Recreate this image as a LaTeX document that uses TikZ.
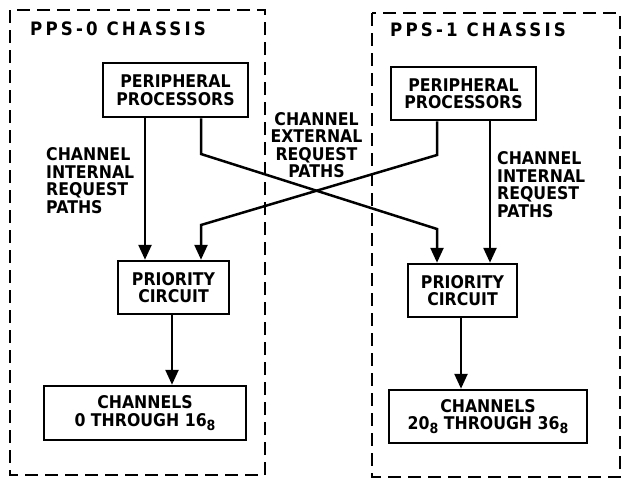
\documentclass[tikz,border=0pt]{standalone}
\usepackage{fontspec}
\setmainfont{DejaVu Sans}
\newfontfamily\boxfont{DejaVu Sans}[FakeStretch=0.9]
\newfontfamily\titlefont{DejaVu Sans}[FakeStretch=0.9,LetterSpace=17]
\usetikzlibrary{arrows.meta}
\newcommand{\octal}[1]{\raisebox{-4pt}{\fontsize{14}{14}\selectfont #1}}
\begin{document}
\begin{tikzpicture}[x=1pt,y=-1pt,
  chassis/.style={draw, line width=2pt, dash pattern=on 13pt off 7pt},
  block/.style={draw, line width=2.5pt, inner sep=0pt, align=center,
    font=\boxfont\fontsize{17.5}{17.5}\selectfont\bfseries},
  lbl/.style={inner sep=0pt, font=\boxfont\fontsize{17.5}{17.5}\selectfont\bfseries},
  ttl/.style={inner sep=0pt, font=\titlefont\fontsize{18.5}{20}\selectfont\bfseries},
  conn/.style={line width=2.5pt},
  arr/.style={conn, -{Triangle[length=15pt,width=13pt]}}]
\useasboundingbox (0,0) rectangle (622,479);
\fill[white] (0,0) rectangle (622,479);
% chassis outlines
\draw[chassis] (10,10) rectangle (265,475);
\draw[chassis] (372,13) rectangle (620,477);
\node[ttl, anchor=base west] (t0) at (30,35) {PPS-0 CHASSIS};
\node[ttl, anchor=base west] (t1) at (390,36) {PPS-1 CHASSIS};
% blocks
\node[block, minimum width=145pt, minimum height=54pt] (ppL) at (175.5,90) {PERIPHERAL\\PROCESSORS};
\node[block, minimum width=145pt, minimum height=53pt] (ppR) at (463.5,93.5) {PERIPHERAL\\PROCESSORS};
\node[block, minimum width=111pt, minimum height=53pt] (prL) at (173.5,287.5) {PRIORITY\\CIRCUIT};
\node[block, minimum width=109pt, minimum height=53pt] (prR) at (462.5,290.5) {PRIORITY\\CIRCUIT};
\node[block, minimum width=202pt, minimum height=54pt] (chL) at (145,413) {CHANNELS\\0 THROUGH 16\octal{8}};
\node[block, minimum width=198pt, minimum height=53pt] (chR) at (488,416.5) {CHANNELS\\20\octal{8} THROUGH 36\octal{8}};
% labels
\node[lbl, align=left, anchor=west] (lL) at (46,180.5) {CHANNEL\\INTERNAL\\REQUEST\\PATHS};
\node[lbl, align=center] (lC) at (316.5,145) {CHANNEL\\EXTERNAL\\REQUEST\\PATHS};
\node[lbl, align=left, anchor=west] (lR) at (497,184.5) {CHANNEL\\INTERNAL\\REQUEST\\PATHS};
% connector reference coordinates
\coordinate (xa) at (145,0);
\coordinate (xb) at (201,0);
\coordinate (xc) at (437,0);
\coordinate (xd) at (490,0);
\coordinate (xe) at (172,0);
\coordinate (xf) at (461,0);
\coordinate (b1) at (201,154);
\coordinate (b2) at (437,229);
\coordinate (b3) at (437,155);
\coordinate (b4) at (201,225);
% connectors
\draw[arr] (ppL.south -| xa) -- (prL.north -| xa);
\draw[arr] (ppL.south -| xb) -- (b1) -- (b2) -- (prR.north -| xc);
\draw[arr] (ppR.south -| xc) -- (b3) -- (b4) -- (prL.north -| xb);
\draw[arr] (ppR.south -| xd) -- (prR.north -| xd);
\draw[arr] (prL.south -| xe) -- (chL.north -| xe);
\draw[arr] (prR.south -| xf) -- (chR.north -| xf);
\end{tikzpicture}
\end{document}
